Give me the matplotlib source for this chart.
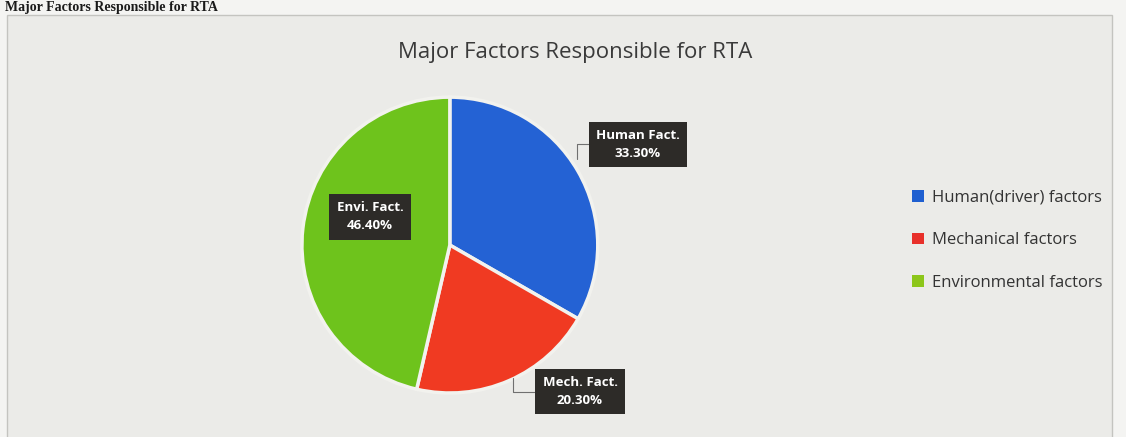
import matplotlib.pyplot as plt
from matplotlib.patches import Patch, Rectangle

# data
short_labels = ["Human Fact.", "Mech. Fact.", "Envi. Fact."]
legend_labels = ["Human(driver) factors", "Mechanical factors", "Environmental factors"]
shares = [33.30, 20.30, 46.40]
colors = ["#2462d4", "#f03a22", "#6ec31c"]
legend_colors = ["#1f5fd0", "#e8302a", "#8cc61a"]

fig = plt.figure(figsize=(11.26, 4.37), dpi=100, facecolor="#f4f4f2")

# chart area of the printed page
fig.patches.append(Rectangle((0.006, -0.01), 0.982, 0.975, transform=fig.transFigure,
                             facecolor="#ebebe8", edgecolor="#c4c4c0", lw=1.0, zorder=-5))
# heading of the page (cut off in the photo)
fig.text(0.004, 0.998, "Major Factors Responsible for RTA", family="Liberation Serif",
         weight="bold", fontsize=10, ha="left", va="top", color="#1a1a1a")

fig.text(0.511, 0.88, "Major Factors Responsible for RTA", family="Open Sans",
         fontsize=16, ha="center", va="center", color="#3a3a3a")

ax = fig.add_axes([0.268, 0.1007, 0.263, 0.677])
wedges, _ = ax.pie(shares, colors=colors, startangle=90, counterclock=False,
                   wedgeprops=dict(edgecolor="#f2f2ee", linewidth=2.5))
ax.set_xlim(-1, 1)
ax.set_ylim(-1, 1)
ax.set_aspect("equal")
ax.axis("off")

box = dict(boxstyle="square,pad=0.55", facecolor="#2d2b28", edgecolor="none")
# label positions (data units relative to pie centre) and leader start points
label_pos = [(1.27, 0.68), (0.88, -0.99), (-0.54, 0.19)]
leader_from = [(0.86, 0.58), (0.43, -0.90), None]
for name, val, pos, src in zip(short_labels, shares, label_pos, leader_from):
    txt = f"{name}\n{val:.2f}%"
    if src is None:
        ax.text(pos[0], pos[1], txt, ha="center", va="center", color="white",
                fontsize=9.5, weight="bold", family="Open Sans", bbox=box,
                linespacing=1.5, clip_on=False)
    else:
        ax.annotate(txt, xy=src, xytext=pos, ha="center", va="center", color="white",
                    fontsize=9.5, weight="bold", family="Open Sans", bbox=box,
                    linespacing=1.5, annotation_clip=False,
                    arrowprops=dict(arrowstyle="-", color="#707070", lw=0.8,
                                    connectionstyle="angle,angleA=0,angleB=90,rad=0",
                                    shrinkA=0, shrinkB=0))

handles = [Patch(facecolor=c, edgecolor="none") for c in legend_colors]
fig.legend(handles, legend_labels, loc="center left", bbox_to_anchor=(0.797, 0.45),
           frameon=False, handlelength=0.7, handleheight=0.7,
           handletextpad=0.5, labelspacing=1.6, prop={"family": "Open Sans", "size": 12},
           labelcolor="#333333")

fig.savefig("out.png", dpi=100, facecolor=fig.get_facecolor())
